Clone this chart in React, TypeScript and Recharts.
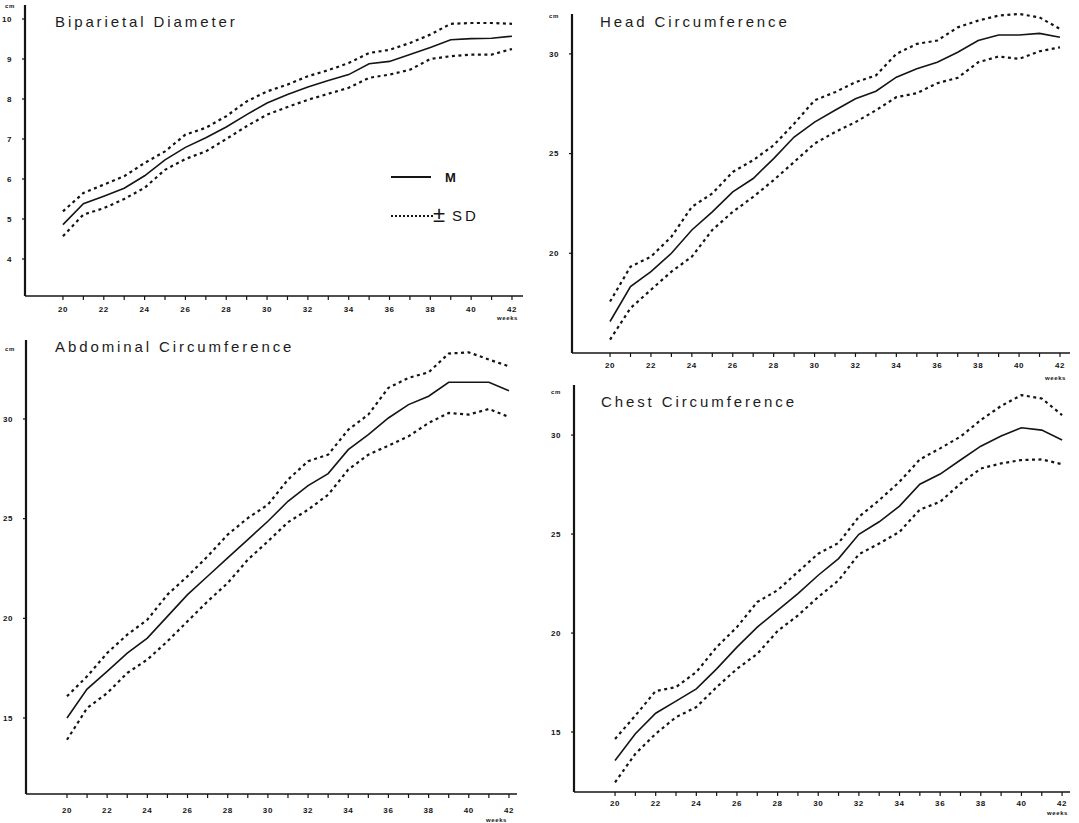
import { Line, LineChart, XAxis, YAxis } from "recharts";

const WEEKS = [20, 21, 22, 23, 24, 25, 26, 27, 28, 29, 30, 31, 32, 33, 34, 35, 36, 37, 38, 39, 40, 41, 42];

const BPD_MEAN = [4.86, 5.38, 5.57, 5.77, 6.08, 6.48, 6.79, 7.03, 7.3, 7.61, 7.9, 8.11, 8.3, 8.46, 8.61, 8.88, 8.94, 9.11, 9.29, 9.48, 9.51, 9.52, 9.57];
const BPD_UPPER = [5.19, 5.65, 5.86, 6.07, 6.4, 6.69, 7.11, 7.28, 7.57, 7.94, 8.19, 8.36, 8.57, 8.72, 8.9, 9.15, 9.23, 9.4, 9.61, 9.88, 9.9, 9.9, 9.88];
const BPD_LOWER = [4.57, 5.11, 5.27, 5.5, 5.78, 6.23, 6.5, 6.69, 7.0, 7.32, 7.61, 7.8, 7.98, 8.13, 8.28, 8.53, 8.61, 8.73, 9.0, 9.07, 9.11, 9.11, 9.25];

const HC_MEAN = [16.58, 18.33, 19.08, 20.0, 21.17, 22.08, 23.08, 23.75, 24.75, 25.83, 26.58, 27.17, 27.75, 28.13, 28.83, 29.25, 29.58, 30.08, 30.67, 30.95, 30.95, 31.03, 30.83];
const HC_UPPER = [17.58, 19.33, 19.83, 20.83, 22.33, 23.0, 24.08, 24.67, 25.42, 26.5, 27.67, 28.08, 28.58, 28.92, 30.0, 30.5, 30.67, 31.33, 31.67, 31.92, 32.0, 31.83, 31.25];
const HC_LOWER = [15.67, 17.25, 18.17, 19.08, 19.83, 21.17, 22.08, 22.83, 23.67, 24.58, 25.5, 26.08, 26.58, 27.17, 27.83, 28.03, 28.53, 28.8, 29.58, 29.87, 29.75, 30.13, 30.33];

const AC_MEAN = [15.0, 16.45, 17.34, 18.26, 19.01, 20.1, 21.19, 22.11, 23.03, 23.95, 24.87, 25.87, 26.66, 27.26, 28.46, 29.21, 30.05, 30.72, 31.14, 31.84, 31.84, 31.84, 31.42];
const AC_UPPER = [16.09, 17.09, 18.26, 19.18, 19.93, 21.19, 22.11, 23.11, 24.2, 25.03, 25.7, 26.96, 27.88, 28.21, 29.46, 30.22, 31.56, 32.06, 32.34, 33.28, 33.34, 32.98, 32.64];
const AC_LOWER = [13.91, 15.5, 16.25, 17.26, 17.93, 18.85, 19.85, 20.85, 21.77, 22.94, 23.86, 24.82, 25.45, 26.2, 27.46, 28.21, 28.66, 29.13, 29.8, 30.3, 30.22, 30.5, 30.1];

const CC_MEAN = [13.56, 14.91, 15.95, 16.56, 17.18, 18.19, 19.29, 20.3, 21.15, 21.99, 22.92, 23.76, 24.99, 25.62, 26.41, 27.52, 28.03, 28.74, 29.44, 29.95, 30.37, 30.25, 29.75];
const CC_UPPER = [14.65, 15.83, 17.07, 17.27, 18.03, 19.29, 20.3, 21.57, 22.16, 23.09, 24.01, 24.55, 25.87, 26.71, 27.64, 28.77, 29.33, 29.92, 30.76, 31.47, 32.02, 31.85, 31.01];
const CC_LOWER = [12.46, 13.9, 14.91, 15.75, 16.26, 17.27, 18.19, 18.95, 20.1, 20.89, 21.82, 22.66, 23.98, 24.52, 25.11, 26.24, 26.63, 27.55, 28.31, 28.57, 28.74, 28.77, 28.53];

const BPD_TICKS = [4, 5, 6, 7, 8, 9, 10];
const CIRC_TICKS = [15, 20, 25, 30];
const HC_TICKS = [20, 25, 30];

const ink = "#141414";
const tickFont = "'Liberation Sans', Arial, sans-serif";

function rows(mean: number[], upper: number[], lower: number[]) {
  return WEEKS.map((week, i) => ({ week, mean: mean[i], upper: upper[i], lower: lower[i] }));
}

// only even weeks get a number, every week gets a tick mark
function WeekTick({ x, y, payload }: any) {
  if (payload.value % 2 !== 0) return <g />;
  return (
    <text x={x} y={y} dy="0.71em" textAnchor="middle" fontSize={8} fontWeight="bold" fontFamily={tickFont} letterSpacing={0.6} fill={ink}>
      {payload.value}
    </text>
  );
}

function ValueTick({ x, y, payload }: any) {
  return (
    <text x={x} y={y} dy="0.35em" textAnchor="end" fontSize={8} fontWeight="bold" fontFamily={tickFont} letterSpacing={0.6} fill={ink}>
      {payload.value}
    </text>
  );
}

type PanelProps = {
  left: number;
  top: number;
  width: number;
  height: number;
  margin: { top: number; right: number; left: number; bottom: number };
  yWidth: number;
  xHeight: number;
  xDomain: [number, number];
  yDomain: [number, number];
  yTicks: number[];
  xLabelGap: number;
  data: Array<{ week: number; mean: number; upper: number; lower: number }>;
};

function Panel(p: PanelProps) {
  return (
    <div style={{ position: "absolute", left: p.left, top: p.top }}>
      <LineChart width={p.width} height={p.height} data={p.data} margin={p.margin}>
        <XAxis
          type="number"
          dataKey="week"
          domain={p.xDomain}
          ticks={WEEKS}
          interval={0}
          tick={<WeekTick />}
          tickSize={4}
          tickMargin={p.xLabelGap}
          height={p.xHeight}
          stroke={ink}
          axisLine={{ stroke: ink, strokeWidth: 1.6 }}
          tickLine={{ stroke: ink, strokeWidth: 1.2 }}
        />
        <YAxis
          type="number"
          domain={p.yDomain}
          ticks={p.yTicks}
          interval={0}
          tick={<ValueTick />}
          tickSize={3}
          tickMargin={10}
          width={p.yWidth}
          stroke={ink}
          axisLine={{ stroke: ink, strokeWidth: 2.2 }}
          tickLine={{ stroke: ink, strokeWidth: 1.2 }}
        />
        <Line dataKey="upper" stroke={ink} strokeWidth={2.2} strokeDasharray="3 3.5" dot={false} isAnimationActive={false} />
        <Line dataKey="lower" stroke={ink} strokeWidth={2.2} strokeDasharray="3 3.5" dot={false} isAnimationActive={false} />
        <Line dataKey="mean" stroke={ink} strokeWidth={1.6} dot={false} isAnimationActive={false} />
      </LineChart>
    </div>
  );
}

const titleStyle = { fontFamily: "'Liberation Sans', Arial, sans-serif", fontSize: 15, letterSpacing: 2.9, whiteSpace: "pre" as const };
const smallStyle = { fontFamily: tickFont, fontSize: 6, fontWeight: "bold" as const, letterSpacing: 0.6 };

export default function App() {
  return (
    <div style={{ position: "absolute", left: 0, top: 0, width: 1079, height: 823, background: "#fff", overflow: "hidden" }}>
      <Panel
        left={0} top={0} width={540} height={330}
        margin={{ top: 5, right: 17, left: 0, bottom: 0 }}
        yWidth={25} xHeight={34} xLabelGap={6}
        xDomain={[18.14, 42.54]} yDomain={[3.075, 10.35]} yTicks={BPD_TICKS}
        data={rows(BPD_MEAN, BPD_UPPER, BPD_LOWER)}
      />
      <Panel
        left={540} top={0} width={539} height={382}
        margin={{ top: 14, right: 9, left: 0, bottom: 0 }}
        yWidth={32} xHeight={29} xLabelGap={5}
        xDomain={[18.14, 42.49]} yDomain={[15, 32]} yTicks={HC_TICKS}
        data={rows(HC_MEAN, HC_UPPER, HC_LOWER)}
      />
      <Panel
        left={0} top={330} width={540} height={493}
        margin={{ top: 10, right: 23, left: 0, bottom: 0 }}
        yWidth={26} xHeight={29} xLabelGap={9}
        xDomain={[17.96, 42.4]} yDomain={[11.19, 33.96]} yTicks={CIRC_TICKS}
        data={rows(AC_MEAN, AC_UPPER, AC_LOWER)}
      />
      <Panel
        left={540} top={382} width={539} height={441}
        margin={{ top: 3, right: 9, left: 0, bottom: 0 }}
        yWidth={34} xHeight={31} xLabelGap={4}
        xDomain={[17.98, 42.39]} yDomain={[11.97, 32.53]} yTicks={CIRC_TICKS}
        data={rows(CC_MEAN, CC_UPPER, CC_LOWER)}
      />

      {/* titles, units and the legend of the first panel */}
      <svg width={1079} height={823} style={{ position: "absolute", left: 0, top: 0, pointerEvents: "none" }}>
        <g fill="#1c1c1c" style={titleStyle}>
          <text x={55} y={27}>Biparietal  Diameter</text>
          <text x={600} y={27}>Head  Circumference</text>
          <text x={55} y={352}>Abdominal   Circumference</text>
          <text x={601} y={407}>Chest  Circumference</text>
        </g>
        <g fill={ink} style={smallStyle}>
          <text x={5} y={8}>cm</text>
          <text x={549} y={18}>cm</text>
          <text x={5} y={351}>cm</text>
          <text x={551} y={394}>cm</text>
          <text x={497} y={320}>weeks</text>
          <text x={1045} y={380}>weeks</text>
          <text x={486} y={822}>weeks</text>
          <text x={1047} y={815}>weeks</text>
        </g>
        <g>
          <line x1={391} y1={177} x2={431} y2={177} stroke={ink} strokeWidth={1.8} />
          <text x={445} y={182} fontFamily={tickFont} fontSize={13} fontWeight="bold" fill={ink}>M</text>
          <line x1={391} y1={216} x2={433} y2={216} stroke={ink} strokeWidth={2} strokeDasharray="2 2" />
          <text x={433} y={222} fontFamily={tickFont} fontSize={22} fill={ink}>±</text>
          <text x={452} y={221} fontFamily={tickFont} fontSize={15} letterSpacing={3} fill={ink}>SD</text>
        </g>
      </svg>
    </div>
  );
}
